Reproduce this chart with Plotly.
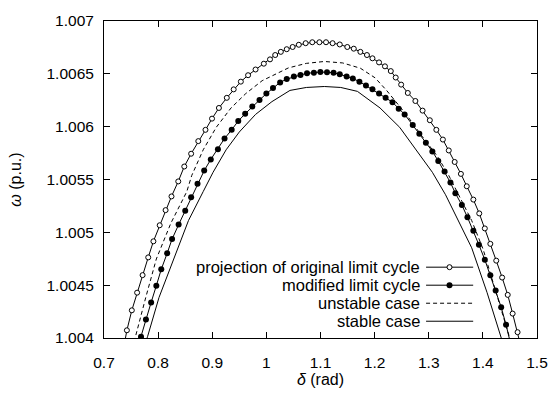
import plotly.graph_objects as go

# ---------------- data ----------------
# projection of original limit cycle (open circles)
orig_delta = [0.7354, 0.7423, 0.7514, 0.7612, 0.7713, 0.7817, 0.7913, 0.8029, 0.8138, 0.8247,
              0.8372, 0.8483, 0.8610, 0.8742, 0.8875, 0.8996, 0.9123, 0.9269, 0.9396, 0.9528,
              0.9662, 0.9800, 0.9953, 1.0067, 1.0163, 1.0267, 1.0376, 1.0485, 1.0599, 1.0726,
              1.0848, 1.0980, 1.1102, 1.1223, 1.1356, 1.1495, 1.1615, 1.1737, 1.1858, 1.1960,
              1.2082, 1.2191, 1.2299, 1.2390, 1.2490, 1.2613, 1.2753, 1.2886, 1.3020, 1.3140,
              1.3261, 1.3370, 1.3479, 1.3594, 1.3702, 1.3824, 1.3933, 1.4036, 1.4138, 1.4247,
              1.4356, 1.4459, 1.4550, 1.4641, 1.4721]
orig_omega = [1.003881, 1.004073, 1.004262, 1.004429, 1.004595, 1.004763, 1.004915, 1.005067, 1.005210, 1.005340,
              1.005482, 1.005623, 1.005744, 1.005863, 1.005970, 1.006076, 1.006177, 1.006273, 1.006353, 1.006426,
              1.006487, 1.006541, 1.006596, 1.006637, 1.006678, 1.006708, 1.006733, 1.006754, 1.006775, 1.006790,
              1.006799, 1.006799, 1.006799, 1.006790, 1.006778, 1.006754, 1.006738, 1.006708, 1.006678, 1.006647,
              1.006608, 1.006571, 1.006526, 1.006465, 1.006398, 1.006319, 1.006243, 1.006152, 1.006061, 1.005970,
              1.005878, 1.005775, 1.005666, 1.005553, 1.005436, 1.005310, 1.005179, 1.005037, 1.004891, 1.004732,
              1.004572, 1.004408, 1.004231, 1.004055, 1.003881]

# modified limit cycle (filled circles)
mod_delta = [0.7653, 0.7684, 0.7775, 0.7871, 0.7967, 0.8058, 0.8167, 0.8258, 0.8379, 0.8501,
             0.8610, 0.8728, 0.8851, 0.8973, 0.9105, 0.9227, 0.9359, 0.9481, 0.9608, 0.9740,
             0.9873, 1.0000, 1.0122, 1.0254, 1.0376, 1.0508, 1.0630, 1.0751, 1.0878, 1.0998,
             1.1120, 1.1241, 1.1356, 1.1483, 1.1597, 1.1719, 1.1840, 1.1960, 1.2082, 1.2203,
             1.2330, 1.2445, 1.2554, 1.2704, 1.2826, 1.2947, 1.3067, 1.3176, 1.3292, 1.3401,
             1.3492, 1.3612, 1.3715, 1.3824, 1.3927, 1.4036, 1.4138, 1.4236, 1.4338, 1.4428,
             1.4505]
mod_omega = [1.003962, 1.004012, 1.004176, 1.004337, 1.004495, 1.004650, 1.004802, 1.004936, 1.005073, 1.005204,
             1.005331, 1.005459, 1.005584, 1.005690, 1.005787, 1.005888, 1.005970, 1.006054, 1.006122, 1.006191,
             1.006252, 1.006313, 1.006366, 1.006419, 1.006450, 1.006474, 1.006489, 1.006505, 1.006510, 1.006517,
             1.006514, 1.006510, 1.006496, 1.006474, 1.006456, 1.006426, 1.006389, 1.006353, 1.006313, 1.006273,
             1.006231, 1.006170, 1.006116, 1.006015, 1.005933, 1.005848, 1.005766, 1.005675, 1.005575, 1.005471,
             1.005370, 1.005258, 1.005143, 1.005015, 1.004882, 1.004741, 1.004595, 1.004450, 1.004292, 1.004125,
             1.003962]

# unstable case (dashed)
unst_delta = [0.7554, 0.7581, 0.7771, 0.7967, 0.8234, 0.8530, 0.8621, 0.8833, 0.9074, 0.9347,
              0.9619, 0.9922, 1.0407, 1.0739, 1.1071, 1.1410, 1.1737, 1.2009, 1.2221, 1.2584,
              1.2886, 1.3158, 1.3370, 1.3583, 1.3793, 1.4005, 1.4241, 1.4490, 1.4523]
unst_omega = [1.003964, 1.004012, 1.004383, 1.004748, 1.005085, 1.005386, 1.005538, 1.005781, 1.005994, 1.006177,
              1.006313, 1.006435, 1.006556, 1.006599, 1.006617, 1.006603, 1.006553, 1.006462, 1.006343, 1.006116,
              1.005903, 1.005721, 1.005538, 1.005325, 1.005112, 1.004839, 1.004429, 1.004018, 1.003954]

# stable case (solid)
stab_delta = [0.7771, 0.7804, 0.8016, 0.8289, 0.8561, 0.8833, 0.9015, 0.9256, 0.9499, 0.9800,
              1.0103, 1.0436, 1.0739, 1.1071, 1.1374, 1.1682, 1.2100, 1.2463, 1.2766, 1.3067,
              1.3310, 1.3552, 1.3793, 1.4078, 1.4338, 1.4368]
stab_omega = [1.003964, 1.004012, 1.004383, 1.004748, 1.005112, 1.005386, 1.005568, 1.005781, 1.005949, 1.006116,
              1.006237, 1.006343, 1.006371, 1.006380, 1.006371, 1.006334, 1.006177, 1.005994, 1.005781, 1.005568,
              1.005356, 1.005112, 1.004854, 1.004429, 1.004018, 1.003954]

x_ticks = [0.7, 0.8, 0.9, 1.0, 1.1, 1.2, 1.3, 1.4, 1.5]
x_tick_labels = ["0.7", "0.8", "0.9", "1", "1.1", "1.2", "1.3", "1.4", "1.5"]
y_ticks = [1.004, 1.0045, 1.005, 1.0055, 1.006, 1.0065, 1.007]
y_tick_labels = ["1.004", "1.0045", "1.005", "1.0055", "1.006", "1.0065", "1.007"]

legend_labels = ["projection of original limit cycle", "modified limit cycle",
                 "unstable case", "stable case"]

# ---------------- figure ----------------
FONT = "Liberation Sans, Arial, Helvetica, sans-serif"
fig = go.Figure()

fig.add_trace(go.Scatter(x=stab_delta, y=stab_omega, mode="lines",
                         line=dict(color="black", width=1), showlegend=False))
fig.add_trace(go.Scatter(x=unst_delta, y=unst_omega, mode="lines",
                         line=dict(color="black", width=1, dash="4px,3px"), showlegend=False))
fig.add_trace(go.Scatter(x=mod_delta, y=mod_omega, mode="lines+markers",
                         line=dict(color="black", width=1),
                         marker=dict(symbol="circle", size=6, color="black",
                                     line=dict(color="black", width=0)),
                         showlegend=False))
fig.add_trace(go.Scatter(x=orig_delta, y=orig_omega, mode="lines+markers",
                         line=dict(color="black", width=1),
                         marker=dict(symbol="circle", size=5, color="white",
                                     line=dict(color="black", width=1)),
                         showlegend=False))

# ---- hand-made legend (text left, sample right) on an overlay axis ----
rows_y = [0.2234, 0.1666, 0.1097, 0.0529]
sx0, sx1, smid = 0.7438, 0.8526, 0.798
styles = [
    dict(mode="lines", line=dict(color="black", width=1)),
    dict(mode="lines", line=dict(color="black", width=1)),
    dict(mode="lines", line=dict(color="black", width=1, dash="4px,3px")),
    dict(mode="lines", line=dict(color="black", width=1)),
]
for i, (lab, st) in enumerate(zip(legend_labels, styles)):
    fig.add_trace(go.Scatter(x=[sx0, sx1], y=[rows_y[i], rows_y[i]], xaxis="x2", yaxis="y2",
                             showlegend=False, hoverinfo="skip", **st))
    fig.add_annotation(x=sx0 - 0.009, y=rows_y[i], xref="x2", yref="y2", text=lab,
                       showarrow=False, xanchor="right", yanchor="middle",
                       font=dict(family=FONT, size=16.5, color="black"))
fig.add_trace(go.Scatter(x=[smid], y=[rows_y[0]], xaxis="x2", yaxis="y2", mode="markers",
                         marker=dict(symbol="circle", size=5, color="white",
                                     line=dict(color="black", width=1)),
                         showlegend=False, hoverinfo="skip"))
fig.add_trace(go.Scatter(x=[smid], y=[rows_y[1]], xaxis="x2", yaxis="y2", mode="markers",
                         marker=dict(symbol="circle", size=6, color="black"),
                         showlegend=False, hoverinfo="skip"))

axis_common = dict(showgrid=False, zeroline=False, showline=True, linecolor="black",
                   linewidth=1, mirror="ticks", ticks="inside", ticklen=6,
                   tickcolor="black", tickwidth=1,
                   tickfont=dict(family=FONT, size=15.5, color="black"))

fig.update_layout(
    width=560, height=395,
    margin=dict(l=104, r=15, t=13, b=53),
    paper_bgcolor="white", plot_bgcolor="white",
    showlegend=False,
    xaxis=dict(range=[0.7, 1.5], tickvals=x_ticks, ticktext=x_tick_labels,
               title=dict(text="<i>δ</i> (rad)", standoff=1,
                          font=dict(family=FONT, size=16, color="black")),
               ticklabelstandoff=10, **axis_common),
    yaxis=dict(range=[1.004 - 1e-9, 1.007 + 1e-9], tickvals=y_ticks, ticktext=y_tick_labels,
               title=dict(text="<i>ω</i> (p.u.)", standoff=20,
                          font=dict(family=FONT, size=16, color="black")),
               ticklabelstandoff=6, **axis_common),
    xaxis2=dict(range=[0, 1], overlaying="x", visible=False, fixedrange=True),
    yaxis2=dict(range=[0, 1], overlaying="y", visible=False, fixedrange=True),
)

fig.write_html("out.html")
